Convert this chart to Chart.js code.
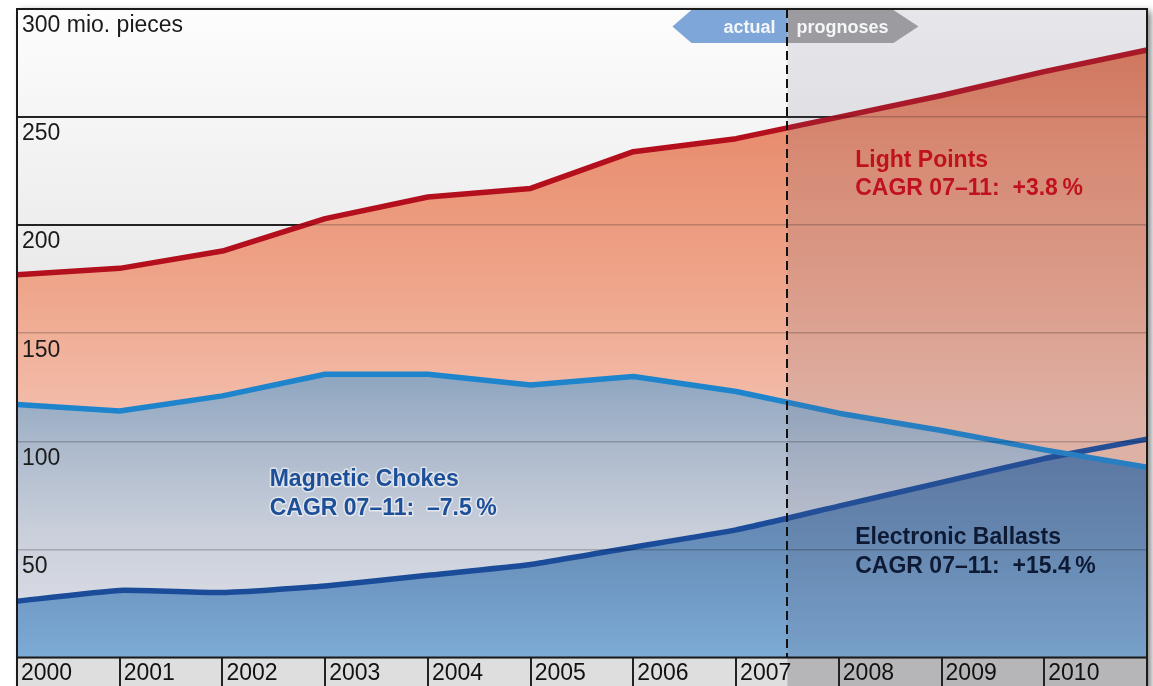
<!DOCTYPE html>
<html>
<head>
<meta charset="utf-8">
<script src="https://cdn.jsdelivr.net/npm/chart.js@4.4.1/dist/chart.umd.min.js"></script>
<style>
  html, body { margin: 0; padding: 0; background: #fff; }
  #wrap { width: 1153px; height: 686px; }
</style>
</head>
<body>
<div id="wrap"><canvas id="myChart" width="1153" height="686"></canvas></div>
<script>
// datos del grafico
const years = [2000, 2001, 2002, 2003, 2004, 2005, 2006, 2007, 2008, 2009, 2010, 2011];
const lightPoints = [177, 180, 188, 203, 213, 217, 234, 240, 250, 260, 271, 281];
const magneticChokes = [117, 114, 121, 131, 131, 126, 130, 123, 113, 105, 96, 88];
const electronicBallasts = [26, 31, 30, 33, 38, 43, 51, 59, 70, 81, 92, 101];
const yTicks = [0, 50, 100, 150, 200, 250, 300];
const yUnit = "mio. pieces";
const lastActualYear = 2007;
const phaseLabels = ["actual", "prognoses"];
const lightPointsNote = ["Light Points", "CAGR 07\u201311:  +3.8\u202f%"];
const chokesNote = ["Magnetic Chokes", "CAGR 07\u201311:  \u20137.5\u202f%"];
const ballastsNote = ["Electronic Ballasts", "CAGR 07\u201311:  +15.4\u202f%"];

const FONT = "'Liberation Sans', Arial, Helvetica, sans-serif";
Chart.defaults.font.family = FONT;

// gradiente vertical segun valores del eje y
function vGrad(chart, stops) {
  const { ctx, chartArea, scales } = chart;
  if (!chartArea || !scales.y) return stops[0][1];
  const y = scales.y;
  const top = y.getPixelForValue(stops[0][0]);
  const bot = y.getPixelForValue(stops[stops.length - 1][0]);
  const g = ctx.createLinearGradient(0, top, 0, bot);
  stops.forEach(([v, c]) => g.addColorStop((y.getPixelForValue(v) - top) / (bot - top), c));
  return g;
}

const redStops = [[290, "rgb(226,118,86)"], [230, "rgb(234,146,116)"], [175, "rgb(238,164,137)"], [110, "rgb(243,190,172)"]];
const greyBlueStops = [[135, "rgb(138,163,190)"], [100, "rgb(170,184,203)"], [60, "rgb(200,206,218)"], [20, "rgb(218,220,228)"]];
const blueStops = [[105, "rgb(88,118,163)"], [50, "rgb(104,143,186)"], [0, "rgb(124,171,214)"]];

function splitX(x) {
  const i = years.indexOf(lastActualYear);
  return (x.getPixelForValue(i) + x.getPixelForValue(i + 1)) / 2;
}

function drawNote(ctx, x, y, lines, color, halo) {
  ctx.font = "bold 23px " + FONT;
  ctx.textAlign = "left";
  ctx.textBaseline = "alphabetic";
  lines.forEach((t, k) => {
    const yy = y + k * 28.5;
    if (halo) {
      ctx.strokeStyle = "rgba(255,255,255,0.55)";
      ctx.lineWidth = 3;
      ctx.lineJoin = "round";
      ctx.strokeText(t, x, yy);
    }
    ctx.fillStyle = color;
    ctx.fillText(t, x, yy);
  });
}

const decor = {
  id: "decor",
  beforeDraw(chart) {
    const { ctx, chartArea: a, scales: { x, y } } = chart;
    const H = chart.height;
    ctx.save();
    ctx.fillStyle = "#fff";
    ctx.fillRect(0, 0, chart.width, H);
    // sombra del marco
    ctx.shadowColor = "rgba(0,0,0,0.5)";
    ctx.shadowBlur = 7;
    ctx.shadowOffsetX = 4;
    ctx.shadowOffsetY = 2;
    ctx.fillStyle = "#fff";
    ctx.fillRect(a.left, a.top, a.width, H - a.top + 10);
    ctx.shadowColor = "transparent";
    // fondo del area
    const g = ctx.createLinearGradient(0, y.getPixelForValue(300), 0, y.getPixelForValue(170));
    g.addColorStop(0, "#fdfdfd");
    g.addColorStop(1, "#e9e9e9");
    ctx.fillStyle = g;
    ctx.fillRect(a.left, a.top, a.width, a.height);
    // lineas oscuras (solo se ven sobre el fondo blanco)
    ctx.strokeStyle = "#2a2a2a";
    ctx.lineWidth = 2;
    yTicks.forEach(v => {
      const py = Math.round(y.getPixelForValue(v));
      ctx.beginPath();
      ctx.moveTo(a.left, py);
      ctx.lineTo(a.right, py);
      ctx.stroke();
    });
    // fila de etiquetas
    const sx = splitX(x);
    ctx.fillStyle = "#dedede";
    ctx.fillRect(a.left, a.bottom, a.width, H - a.bottom);
    ctx.fillStyle = "rgba(90,90,95,0.3)";
    ctx.fillRect(sx, a.bottom, a.right - sx, H - a.bottom);
    ctx.restore();
  },
  afterDatasetsDraw(chart) {
    const { ctx, chartArea: a, scales: { x } } = chart;
    const sx = splitX(x);
    ctx.save();
    ctx.fillStyle = "rgba(100,100,125,0.14)";
    ctx.fillRect(sx, a.top, a.right - sx, a.height);
    ctx.restore();
  },
  afterDraw(chart) {
    const { ctx, chartArea: a, scales: { x, y } } = chart;
    const H = chart.height;
    const sx = splitX(x);
    ctx.save();
    // separadores de años
    ctx.strokeStyle = "#222";
    ctx.lineWidth = 2;
    for (let i = 1; i < years.length - 1; i++) {
      const px = Math.round(x.getPixelForValue(i));
      ctx.beginPath();
      ctx.moveTo(px, a.bottom);
      ctx.lineTo(px, H);
      ctx.stroke();
    }
    // marco
    ctx.strokeStyle = "#1a1a1a";
    ctx.beginPath();
    ctx.moveTo(a.left, H + 2);
    ctx.lineTo(a.left, a.top);
    ctx.lineTo(a.right, a.top);
    ctx.lineTo(a.right, H + 2);
    ctx.moveTo(a.left, a.bottom);
    ctx.lineTo(a.right, a.bottom);
    ctx.stroke();

    // flechas actual / prognoses
    const t = a.top + 1, b = a.top + 34, m = (t + b) / 2;
    ctx.fillStyle = "#7ea6d8";
    ctx.beginPath();
    ctx.moveTo(sx, t); ctx.lineTo(sx - 96, t); ctx.lineTo(sx - 115, m); ctx.lineTo(sx - 96, b); ctx.lineTo(sx, b);
    ctx.closePath(); ctx.fill();
    ctx.fillStyle = "#9c9ca0";
    ctx.beginPath();
    ctx.moveTo(sx, t); ctx.lineTo(sx + 106, t); ctx.lineTo(sx + 131, m); ctx.lineTo(sx + 106, b); ctx.lineTo(sx, b);
    ctx.closePath(); ctx.fill();
    ctx.font = "bold 18px " + FONT;
    ctx.fillStyle = "#f4f6f8";
    ctx.textBaseline = "alphabetic";
    ctx.textAlign = "right";
    ctx.fillText(phaseLabels[0], sx - 12, t + 23);
    ctx.textAlign = "left";
    ctx.fillText(phaseLabels[1], sx + 9, t + 23);

    // linea discontinua
    ctx.strokeStyle = "#111";
    ctx.lineWidth = 2;
    ctx.setLineDash([9, 5]);
    ctx.beginPath();
    ctx.moveTo(Math.round(sx), a.top);
    ctx.lineTo(Math.round(sx), a.bottom);
    ctx.stroke();
    ctx.setLineDash([]);

    // textos
    drawNote(ctx, x.getPixelForValue(8.16), y.getPixelForValue(227), lightPointsNote, "#c0121e", false);
    drawNote(ctx, x.getPixelForValue(2.46), y.getPixelForValue(79.2), chokesNote, "#1d4e98", true);
    drawNote(ctx, x.getPixelForValue(8.16), y.getPixelForValue(52.3), ballastsNote, "#0e1a33", false);
    ctx.restore();
  },
};

// CREAR GRAFICO
const ctx = document.getElementById("myChart").getContext("2d");
const myChart = new Chart(ctx, {
  type: "line",
  data: {
    labels: years.map(String),
    datasets: [
      {
        label: lightPointsNote[0],
        data: lightPoints,
        borderColor: "#b40f1c",
        borderWidth: 5.5,
        pointRadius: 0,
        tension: 0,
        borderJoinStyle: "round",
        fill: { target: 1 },
        backgroundColor: c => vGrad(c.chart, redStops),
      },
      {
        label: chokesNote[0],
        data: magneticChokes,
        borderColor: "#1e84cc",
        borderWidth: 5.5,
        pointRadius: 0,
        tension: 0,
        borderJoinStyle: "round",
        fill: { target: 2, below: "rgb(140,126,152)" },
        backgroundColor: c => vGrad(c.chart, greyBlueStops),
      },
      {
        label: ballastsNote[0],
        data: electronicBallasts,
        borderColor: "#1a4c9a",
        borderWidth: 5.5,
        pointRadius: 0,
        tension: 0.15,
        borderJoinStyle: "round",
        fill: "origin",
        backgroundColor: c => vGrad(c.chart, blueStops),
      },
    ],
  },
  options: {
    responsive: false,
    animation: false,
    layout: { padding: { left: 7, right: 6, top: 9, bottom: -4.6 } },
    plugins: {
      legend: { display: false },
      tooltip: { enabled: false },
      filler: { drawTime: "beforeDatasetsDraw" },
    },
    scales: {
      x: {
        grid: { display: false, drawTicks: false },
        border: { display: false },
        afterFit(s) { s.paddingLeft = 0; s.paddingRight = 0; },
        ticks: {
          autoSkip: false,
          maxRotation: 0,
          align: "start",
          labelOffset: 4,
          padding: 0.5,
          color: "#111",
          font: { size: 23, lineHeight: 1.4 },
          callback: (v, i) => (i === years.length - 1 ? "" : String(years[i])),
        },
      },
      y: {
        min: 0,
        max: 300,
        afterFit(s) { s.paddingTop = 0; s.paddingBottom = 0; },
        afterBuildTicks(s) { s.ticks = yTicks.map(v => ({ value: v })); },
        grid: { z: 1, color: "rgba(0,0,0,0.2)", lineWidth: 1.5, drawTicks: false },
        border: { display: false },
        ticks: {
          z: 1,
          mirror: true,
          padding: 5,
          labelOffset: 17,
          color: "#1a1a1a",
          font: { size: 23 },
          callback: v => (v === 300 ? v + " " + yUnit : v === 0 ? "" : v),
        },
      },
    },
  },
  plugins: [decor],
});
</script>
</body>
</html>
